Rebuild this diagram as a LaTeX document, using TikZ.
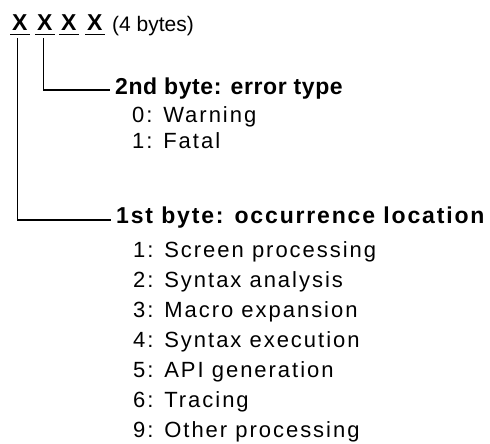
\documentclass[tikz,border=0pt]{standalone}
\usepackage{fontspec}
\setmainfont{Liberation Sans}
\newfontfamily\regf[LetterSpace=9]{Liberation Sans}
\newfontfamily\hdf[LetterSpace=8]{Liberation Sans}
\newfontfamily\hdtwof[LetterSpace=2.5]{Liberation Sans}
\begin{document}
\begin{tikzpicture}[x=1pt,y=-1pt,
  txt/.style={inner sep=0pt,anchor=base west,font=\regf\fontsize{22}{26}\selectfont},
  small/.style={inner sep=0pt,anchor=base west,font=\fontsize{21}{25}\selectfont},
  head/.style={inner sep=0pt,anchor=base west,font=\hdf\bfseries\fontsize{23}{27}\selectfont},
  headtwo/.style={inner sep=0pt,anchor=base west,font=\hdtwof\bfseries\fontsize{23}{27}\selectfont},
  xbyte/.style={inner sep=0pt,anchor=base west,font=\bfseries\fontsize{23}{27}\selectfont},
  uline/.style={line width=1.2pt},
  conn/.style={line width=1.2pt}]
\useasboundingbox (0,0) rectangle (490,444);
% the four bytes
\node[xbyte] (x1) at (12,31) {X};
\node[xbyte] (x2) at (37,31) {X};
\node[xbyte] (x3) at (61,31) {X};
\node[xbyte] (x4) at (87,31) {X};
\node[small] (size) at (112,32) {(4 bytes)};
\foreach \n in {x1,x2,x3,x4}{
  \draw[uline] ([xshift=-2pt,yshift=-3pt]\n.south west) -- ([xshift=2pt,yshift=-3pt]\n.south east);
}
% headings
\node[headtwo] (h2) at (115,95) {2nd byte: error type};
\node[head] (h1) at (116,223) {1st byte: occurrence location};
% connectors
\draw[conn] ([xshift=-1pt,yshift=-7pt]x2.south) |- ([xshift=-5pt,yshift=-1pt]h2.west);
\draw[conn] ([xshift=-2pt,yshift=-7pt]x1.south) |- ([xshift=-5pt,yshift=-3pt]h1.west);
% second byte values
\node[txt] (e0) at (132,122) {0: Warning};
\node[txt] (e1) at (132,148) {1: Fatal};
% first byte values
\node[txt] (l1) at (133,257) {1: Screen processing};
\node[txt] (l2) at (133,287) {2: Syntax analysis};
\node[txt] (l3) at (133,317) {3: Macro expansion};
\node[txt] (l4) at (133,347) {4: Syntax execution};
\node[txt] (l5) at (133,377) {5: API generation};
\node[txt] (l6) at (133,407) {6: Tracing};
\node[txt] (l9) at (133,437) {9: Other processing};
\end{tikzpicture}
\end{document}
